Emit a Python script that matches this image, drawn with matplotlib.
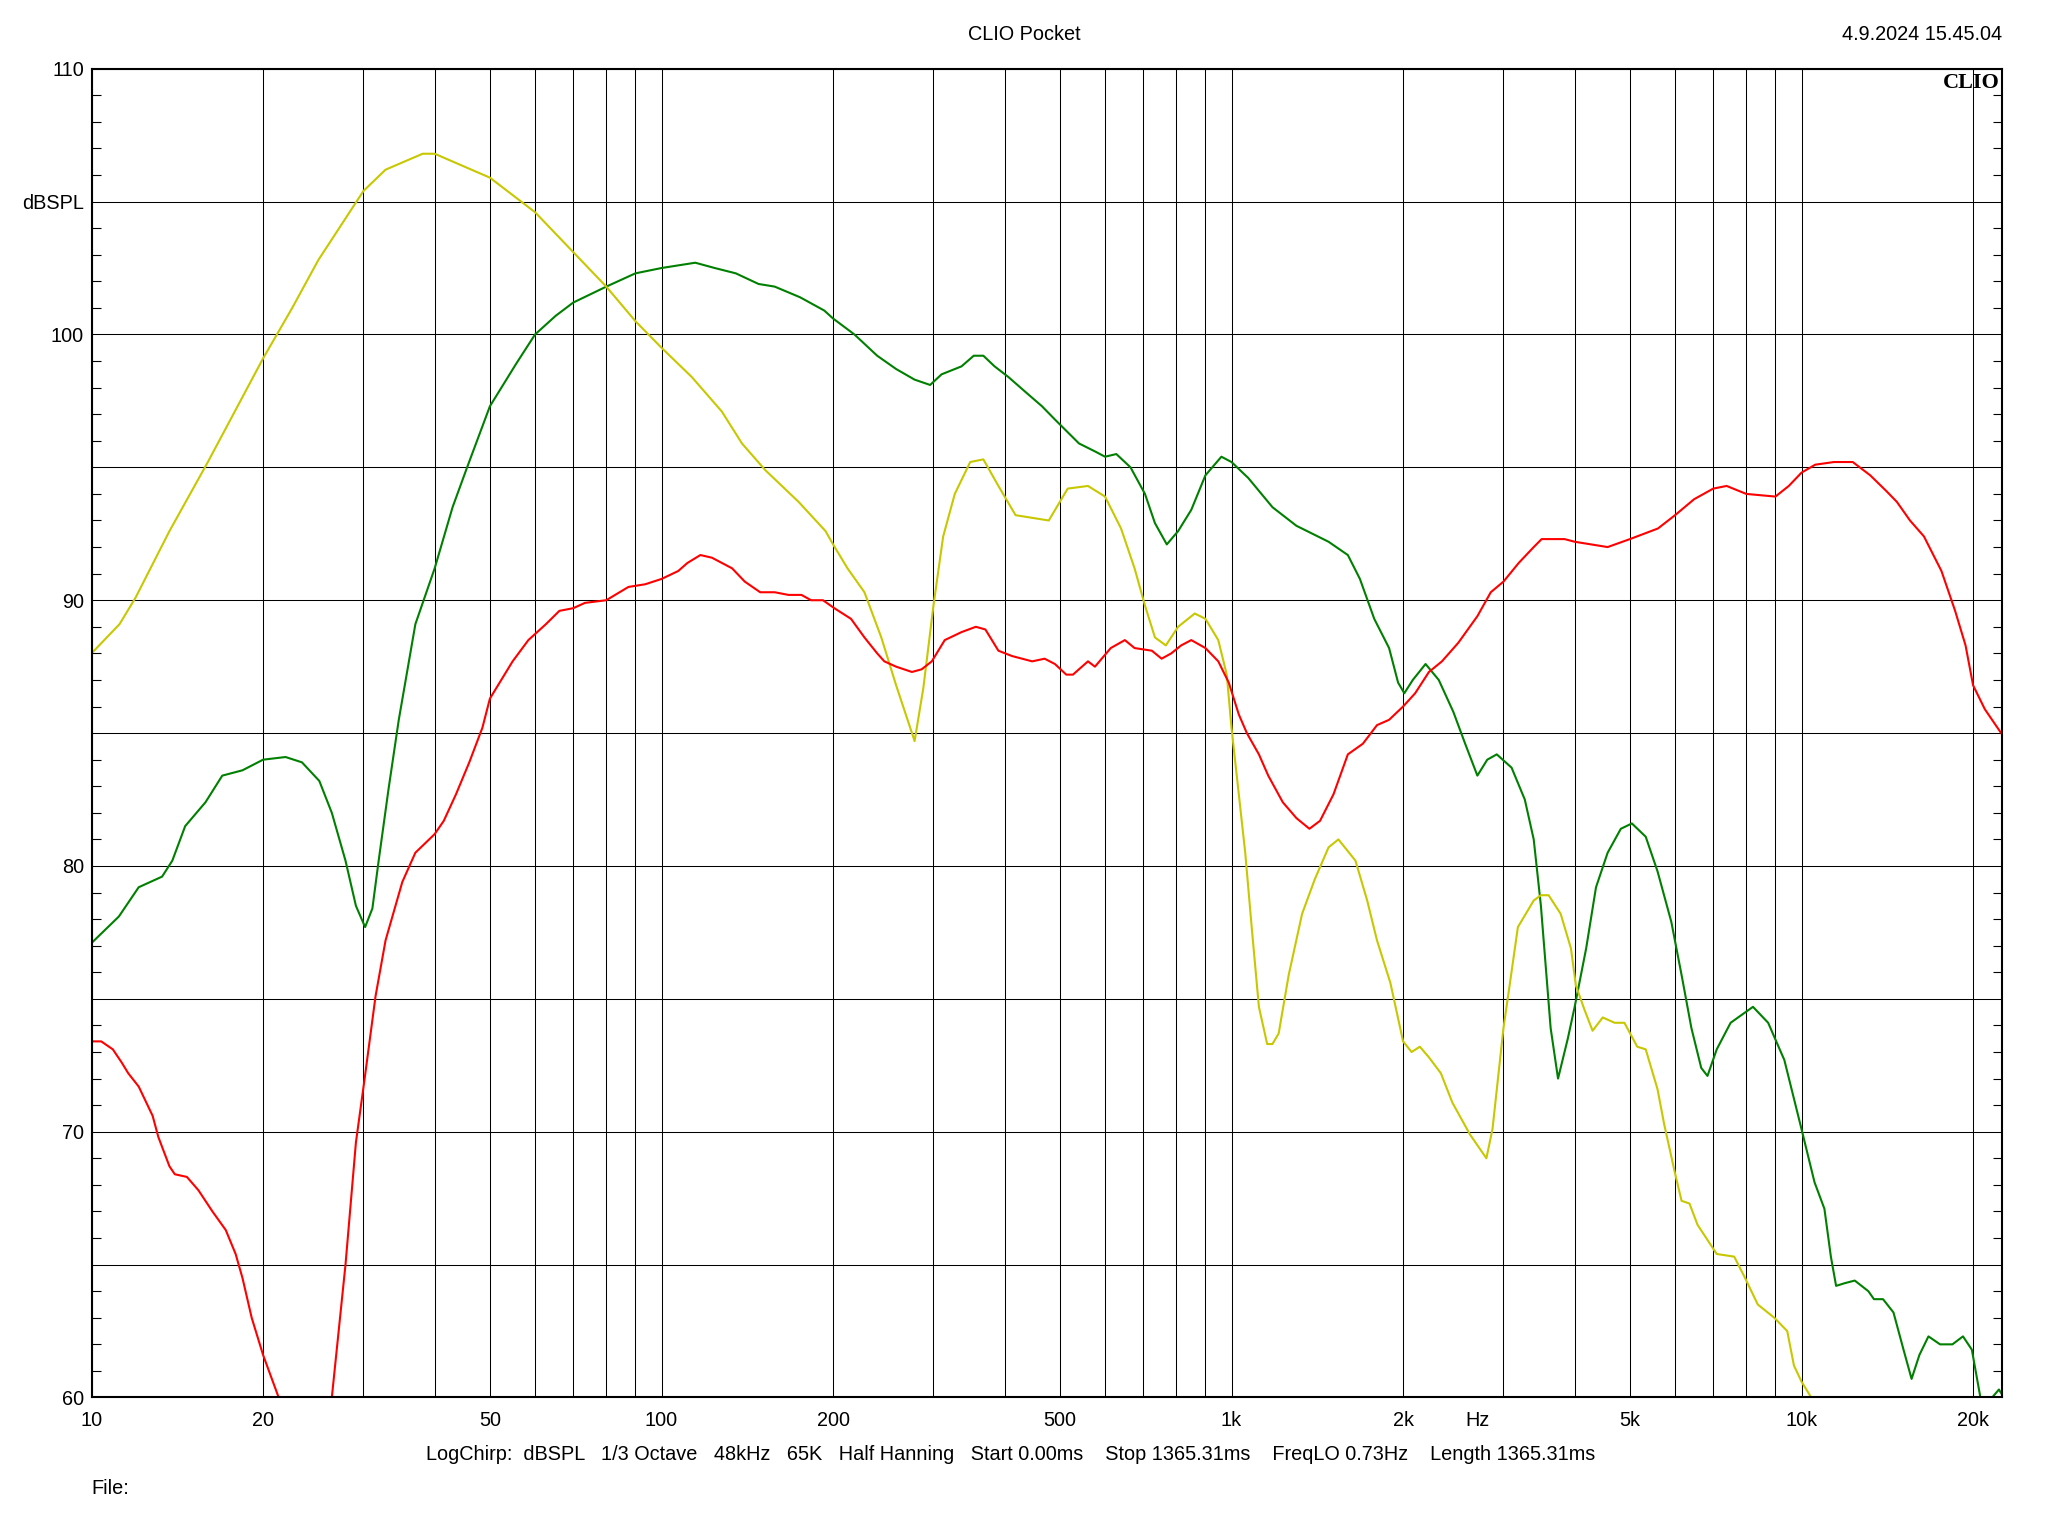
import matplotlib
matplotlib.use('Agg')
import matplotlib.pyplot as plt
from matplotlib.ticker import FixedLocator, FixedFormatter, MultipleLocator, NullFormatter

plt.rcParams['font.family'] = ['Liberation Sans', 'DejaVu Sans']

# yellow curve
f_yellow = [10, 11.2, 11.95, 13.7, 16.0, 20, 22.5, 25, 30, 32.8, 38.1, 40, 50, 60, 70,
            80, 90, 100, 113, 127.6, 138.4, 152, 174, 194, 200, 212, 227, 243, 258, 278,
            288, 300, 312, 327, 348, 367, 390, 418, 478, 516, 560, 600, 640, 676, 705,
            734, 767, 806, 862, 900, 948, 981, 1000, 1057, 1086, 1117, 1155, 1180, 1210, 1260,
            1330, 1400, 1480, 1540, 1650, 1730, 1800, 1900, 2000, 2070, 2140, 2220, 2330, 2440, 2620,
            2800, 2870, 3000, 3080, 3180, 3390, 3490, 3600, 3780, 3940, 4020, 4160, 4300, 4480, 4700,
            4890, 5150, 5330, 5590, 5740, 5990, 6160, 6360, 6570, 7100, 7620, 7960, 8380, 8960, 9440,
            9700, 10000, 10400, 10800]
db_yellow = [88.0, 89.1, 90.1, 92.6, 95.2, 99.1, 101.0, 102.8, 105.4, 106.2, 106.8, 106.8, 105.9, 104.6, 103.1,
             101.8, 100.5, 99.5, 98.4, 97.1, 95.9, 94.9, 93.7, 92.6, 92.1, 91.2, 90.3, 88.6, 86.8, 84.7,
             86.7, 89.8, 92.4, 94.0, 95.2, 95.3, 94.3, 93.2, 93.0, 94.2, 94.3, 93.9, 92.7, 91.2, 89.8,
             88.6, 88.3, 89.0, 89.5, 89.3, 88.5, 87.2, 85.2, 80.5, 77.6, 74.7, 73.3, 73.3, 73.7, 75.9,
             78.2, 79.5, 80.7, 81.0, 80.2, 78.7, 77.2, 75.6, 73.4, 73.0, 73.2, 72.8, 72.2, 71.1, 69.9,
             69.0, 70.1, 73.9, 75.6, 77.7, 78.7, 78.9, 78.9, 78.2, 76.9, 75.5, 74.6, 73.8, 74.3, 74.1,
             74.1, 73.2, 73.1, 71.6, 70.3, 68.5, 67.4, 67.3, 66.5, 65.4, 65.3, 64.5, 63.5, 63.0, 62.5,
             61.2, 60.6, 60.0, 59.0]

# green curve
f_green = [10, 11.17, 12.1, 13.3, 13.86, 14.6, 15.85, 16.96, 18.4, 20, 21.9, 23.4, 25.1, 26.4, 27.9,
           29.1, 30.2, 31.1, 31.9, 33.2, 34.6, 37.0, 40, 43.0, 45.6, 50, 55.6, 60, 65.2, 70,
           80, 90, 100, 114.6, 124, 135, 148, 158, 175, 193, 200, 218, 239, 258, 278,
           296, 310, 336, 353, 367, 384, 406, 437, 465, 490, 540, 576, 600, 628, 665,
           705, 734, 770, 806, 850, 900, 960, 1000, 1070, 1180, 1300, 1480, 1600, 1680, 1780,
           1890, 1960, 2010, 2080, 2190, 2310, 2450, 2570, 2700, 2810, 2920, 3100, 3270, 3390, 3490,
           3630, 3740, 3890, 4000, 4190, 4360, 4570, 4820, 5040, 5330, 5590, 5910, 6160, 6410, 6670,
           6840, 7100, 7510, 8220, 8740, 9330, 10000, 10540, 10970, 11260, 11500, 11900, 12400, 13100, 13400,
           13900, 14500, 15100, 15600, 16100, 16700, 17500, 18400, 19200, 19900, 20600, 21000, 21600, 22200, 22500]
db_green = [77.1, 78.1, 79.2, 79.6, 80.2, 81.5, 82.4, 83.4, 83.6, 84.0, 84.1, 83.9, 83.2, 82.0, 80.2,
            78.5, 77.7, 78.4, 80.2, 82.9, 85.5, 89.1, 91.2, 93.5, 95.0, 97.3, 98.9, 100.0, 100.7, 101.2,
            101.8, 102.3, 102.5, 102.7, 102.5, 102.3, 101.9, 101.8, 101.4, 100.9, 100.6, 100.0, 99.2, 98.7, 98.3,
            98.1, 98.5, 98.8, 99.2, 99.2, 98.8, 98.4, 97.8, 97.3, 96.8, 95.9, 95.6, 95.4, 95.5, 95.0,
            94.0, 92.9, 92.1, 92.6, 93.4, 94.7, 95.4, 95.2, 94.6, 93.5, 92.8, 92.2, 91.7, 90.8, 89.3,
            88.2, 86.9, 86.5, 87.0, 87.6, 87.0, 85.8, 84.6, 83.4, 84.0, 84.2, 83.7, 82.5, 81.0, 78.5,
            73.9, 72.0, 73.5, 74.7, 76.9, 79.2, 80.5, 81.4, 81.6, 81.1, 79.8, 77.9, 75.9, 73.9, 72.4,
            72.1, 73.1, 74.1, 74.7, 74.1, 72.7, 70.1, 68.1, 67.1, 65.3, 64.2, 64.3, 64.4, 64.0, 63.7,
            63.7, 63.2, 61.8, 60.7, 61.6, 62.3, 62.0, 62.0, 62.3, 61.8, 60.0, 59.6, 60.0, 60.3, 60.1]

# red curve
f_red = [10, 10.4, 10.9, 11.3, 11.6, 12.1, 12.8, 13.1, 13.7, 14.0, 14.7, 15.4, 16.3, 17.2, 17.9,
         18.4, 19.1, 20, 21.3, 23, 25.5, 26.4, 27.9, 29.1, 30.1, 31.5, 32.8, 35.1, 37.0, 40,
         41.5, 43.6, 46, 48.5, 50, 54.8, 58.4, 62.7, 66.2, 70, 73.4, 80, 87.5, 93.6, 100,
         107, 111, 117, 122.6, 133, 140, 149, 158, 167, 176, 183, 192, 201, 215, 227,
         239, 246, 258, 275, 286, 298, 314, 336, 356, 370, 390, 412, 447, 470, 490,
         513, 527, 560, 576, 614, 650, 676, 725, 754, 784, 816, 850, 900, 948, 989,
         1030, 1064, 1117, 1160, 1230, 1300, 1370, 1430, 1510, 1600, 1700, 1800, 1890, 2000, 2100,
         2220, 2340, 2500, 2700, 2850, 3000, 3190, 3390, 3500, 3840, 4000, 4570, 5000, 5600, 6000,
         6480, 7000, 7390, 8000, 9000, 9500, 10000, 10570, 11400, 12300, 13200, 14100, 14700, 15500, 16400,
         17600, 18600, 19400, 20000, 20970, 22400]
db_red = [73.4, 73.4, 73.1, 72.6, 72.2, 71.7, 70.6, 69.8, 68.7, 68.4, 68.3, 67.8, 67.0, 66.3, 65.4,
          64.5, 63.0, 61.6, 60.0, 58.0, 58.0, 60.0, 65.0, 69.6, 71.9, 75.1, 77.2, 79.4, 80.5, 81.2,
          81.7, 82.7, 83.9, 85.2, 86.3, 87.7, 88.5, 89.1, 89.6, 89.7, 89.9, 90.0, 90.5, 90.6, 90.8,
          91.1, 91.4, 91.7, 91.6, 91.2, 90.7, 90.3, 90.3, 90.2, 90.2, 90.0, 90.0, 89.7, 89.3, 88.6,
          88.0, 87.7, 87.5, 87.3, 87.4, 87.7, 88.5, 88.8, 89.0, 88.9, 88.1, 87.9, 87.7, 87.8, 87.6,
          87.2, 87.2, 87.7, 87.5, 88.2, 88.5, 88.2, 88.1, 87.8, 88.0, 88.3, 88.5, 88.2, 87.7, 86.9,
          85.7, 85.0, 84.2, 83.4, 82.4, 81.8, 81.4, 81.7, 82.7, 84.2, 84.6, 85.3, 85.5, 86.0, 86.5,
          87.3, 87.7, 88.4, 89.4, 90.3, 90.7, 91.4, 92.0, 92.3, 92.3, 92.2, 92.0, 92.3, 92.7, 93.2,
          93.8, 94.2, 94.3, 94.0, 93.9, 94.3, 94.8, 95.1, 95.2, 95.2, 94.7, 94.1, 93.7, 93.0, 92.4,
          91.1, 89.6, 88.3, 86.8, 85.9, 85.0]

# axes grid / labels
x_grid = list(range(20, 100, 10)) + list(range(100, 1000, 100)) + list(range(1000, 10000, 1000)) + [10000, 20000]
x_labels = {20: '20', 50: '50', 100: '100', 200: '200', 500: '500', 1000: '1k',
            2000: '2k', 5000: '5k', 10000: '10k', 20000: '20k'}
y_grid = list(range(60, 111, 5))
y_labels = ['60', '', '70', '', '80', '', '90', '', '100', 'dBSPL', '110']

fs = 14.3

fig = plt.figure(figsize=(20.48, 15.36), dpi=100)
ax = fig.add_axes([0.04468, 0.09017, 0.93271, 0.86510])

ax.plot(f_green, db_green, color='#008000', lw=1.5)
ax.plot(f_yellow, db_yellow, color='#c8c800', lw=1.5)
ax.plot(f_red, db_red, color='#ff0000', lw=1.5)

ax.set_xscale('log')
ax.set_xlim(10, 22450)
ax.set_ylim(60, 110)

ax.xaxis.set_major_locator(FixedLocator([10] + x_grid))
ax.xaxis.set_major_formatter(FixedFormatter(['10'] + [x_labels.get(v, '') for v in x_grid]))
ax.xaxis.set_minor_locator(FixedLocator([2700]))
ax.xaxis.set_minor_formatter(FixedFormatter(['Hz']))

ax.yaxis.set_major_locator(FixedLocator(y_grid))
ax.yaxis.set_major_formatter(FixedFormatter(y_labels))
ax.yaxis.set_minor_locator(MultipleLocator(1))
ax.yaxis.set_minor_formatter(NullFormatter())

ax.tick_params(axis='x', which='both', length=0, labelsize=fs, pad=10)
ax.tick_params(axis='y', which='major', length=0, labelsize=fs, pad=5.5)
ax.tick_params(axis='y', which='minor', direction='in', left=True, right=True,
               length=6.7, width=0.8)

ax.grid(True, which='major', color='black', lw=0.75)
ax.set_axisbelow(True)
for s in ax.spines.values():
    s.set_linewidth(1.5)

ax.text(0.999, 0.997, 'CLIO', transform=ax.transAxes, ha='right', va='top',
        fontsize=16, fontweight='bold', family='Liberation Serif')

fig.text(0.5, 1 - 34 / 1536, 'CLIO Pocket', ha='center', va='center', fontsize=fs)
fig.text(0.9774, 1 - 34 / 1536, '4.9.2024 15.45.04', ha='right', va='center', fontsize=fs)
fig.text(0.4937, 1 - 1455 / 1536,
         'LogChirp:  dBSPL   1/3 Octave   48kHz   65K   Half Hanning   Start 0.00ms    '
         'Stop 1365.31ms    FreqLO 0.73Hz    Length 1365.31ms',
         ha='center', va='center', fontsize=fs)
fig.text(0.0444, 1 - 1489 / 1536, 'File:', ha='left', va='center', fontsize=fs)

fig.savefig('out.png', dpi=100)
